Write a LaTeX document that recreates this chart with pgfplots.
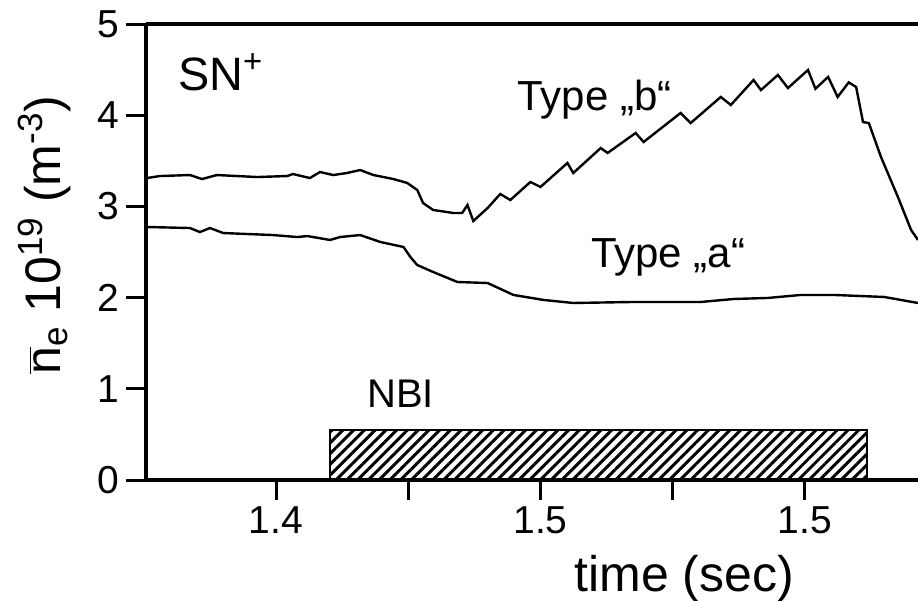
\documentclass[border=0pt]{standalone}
\usepackage{fontspec}
\setmainfont{Liberation Sans}
\usepackage{pgfplots}
\pgfplotsset{compat=1.18}
\usetikzlibrary{patterns.meta}

% line-averaged density traces for the two discharge types
\pgfplotstableread{
t      ne
1.3756 3.311
1.3780 3.333
1.3837 3.344
1.3860 3.300
1.3888 3.344
1.3964 3.322
1.4021 3.333
1.4032 3.355
1.4064 3.311
1.4083 3.377
1.4108 3.344
1.4134 3.366
1.4159 3.399
1.4184 3.344
1.4222 3.300
1.4248 3.257
1.4267 3.180
1.4278 3.037
1.4297 2.961
1.4335 2.928
1.4352 2.928
1.4362 3.015
1.4373 2.840
1.4400 2.982
1.4424 3.136
1.4443 3.070
1.4481 3.268
1.4500 3.213
1.4551 3.476
1.4562 3.366
1.4614 3.640
1.4627 3.586
1.4680 3.805
1.4695 3.706
1.4765 4.024
1.4784 3.914
1.4841 4.200
1.4860 4.112
1.4903 4.386
1.4917 4.276
1.4949 4.441
1.4968 4.298
1.5006 4.496
1.5020 4.290
1.5044 4.420
1.5062 4.200
1.5083 4.360
1.5097 4.309
1.5110 3.925
1.5121 3.914
1.5144 3.542
1.5176 3.103
1.5201 2.741
1.5214 2.632
}\typeb

\pgfplotstableread{
t      ne
1.3756 2.774
1.3837 2.763
1.3856 2.719
1.3875 2.763
1.3900 2.708
1.3994 2.686
1.4040 2.664
1.4059 2.675
1.4102 2.632
1.4121 2.664
1.4159 2.686
1.4197 2.610
1.4241 2.555
1.4254 2.445
1.4267 2.357
1.4297 2.281
1.4343 2.171
1.4400 2.160
1.4449 2.029
1.4506 1.974
1.4562 1.941
1.4676 1.952
1.4803 1.952
1.4866 1.985
1.4930 1.996
1.4992 2.029
1.5055 2.029
1.5150 2.007
1.5182 1.974
1.5214 1.941
}\typea

\begin{document}
\begin{tikzpicture}
\begin{axis}[
  scale only axis, width=386bp, height=228bp,
  xmin=1.3754, xmax=1.5214, ymin=0, ymax=5,
  axis x line=box, axis y line=left,
  axis line style={line width=1.6bp, -},
  every non boxed y axis/.append style={y axis line style={-}},
  tick pos=left, tick align=outside,
  xtick={1.40,1.45,1.50}, xticklabels={1.4,1.5,1.5},
  minor xtick={1.425,1.475},
  ytick={0,1,2,3,4,5},
  major tick length=10bp, minor tick length=10bp,
  every tick/.style={black, line width=1.5bp},
  ticklabel style={font=\fontsize{19.5bp}{23bp}\selectfont},
  /pgf/number format/assume math mode=true,
  xlabel={time (sec)},
  ylabel={$\overline{\mbox{n}}$\textsubscript{e} 10\textsuperscript{19} (m\textsuperscript{-3})},
  label style={font=\fontsize{25bp}{30bp}\selectfont},
  xlabel style={at={(ticklabel cs:0.697)}},
  ylabel style={at={(ticklabel cs:0.537)}},
  xlabel shift=3.5bp, ylabel shift=6.5bp,
]
\coordinate (sw) at (rel axis cs:0,0);
\coordinate (ne) at (rel axis cs:1,1);

% NBI heating window
\addplot[draw=black, line width=0.8bp,
  pattern={Lines[angle=45,distance=3.8bp,line width=1.5bp]}]
  coordinates {(1.4102,0) (1.4102,0.548) (1.5117,0.548) (1.5117,0)} \closedcycle;

\addplot[black, line width=1.2bp] table[x=t,y=ne] {\typeb};
\addplot[black, line width=1.2bp] table[x=t,y=ne] {\typea};

\node[anchor=base west, inner sep=0, font=\fontsize{23.4bp}{28bp}\selectfont]
  at (axis cs:1.3814,4.276) {SN\textsuperscript{+}};
\node[anchor=base west, inner sep=0, font=\fontsize{21bp}{25bp}\selectfont]
  at (axis cs:1.4456,4.057) {Type „b“};
\node[anchor=base west, inner sep=0, font=\fontsize{21bp}{25bp}\selectfont]
  at (axis cs:1.4595,2.325) {Type „a“};
\node[anchor=base west, inner sep=0, font=\fontsize{20bp}{24bp}\selectfont]
  at (axis cs:1.4172,0.800) {NBI};
\end{axis}
\pgfresetboundingbox
\path[use as bounding box] ([xshift=-73bp,yshift=-60.5bp]sw) rectangle ([yshift=12bp]ne);
\end{tikzpicture}
\end{document}
